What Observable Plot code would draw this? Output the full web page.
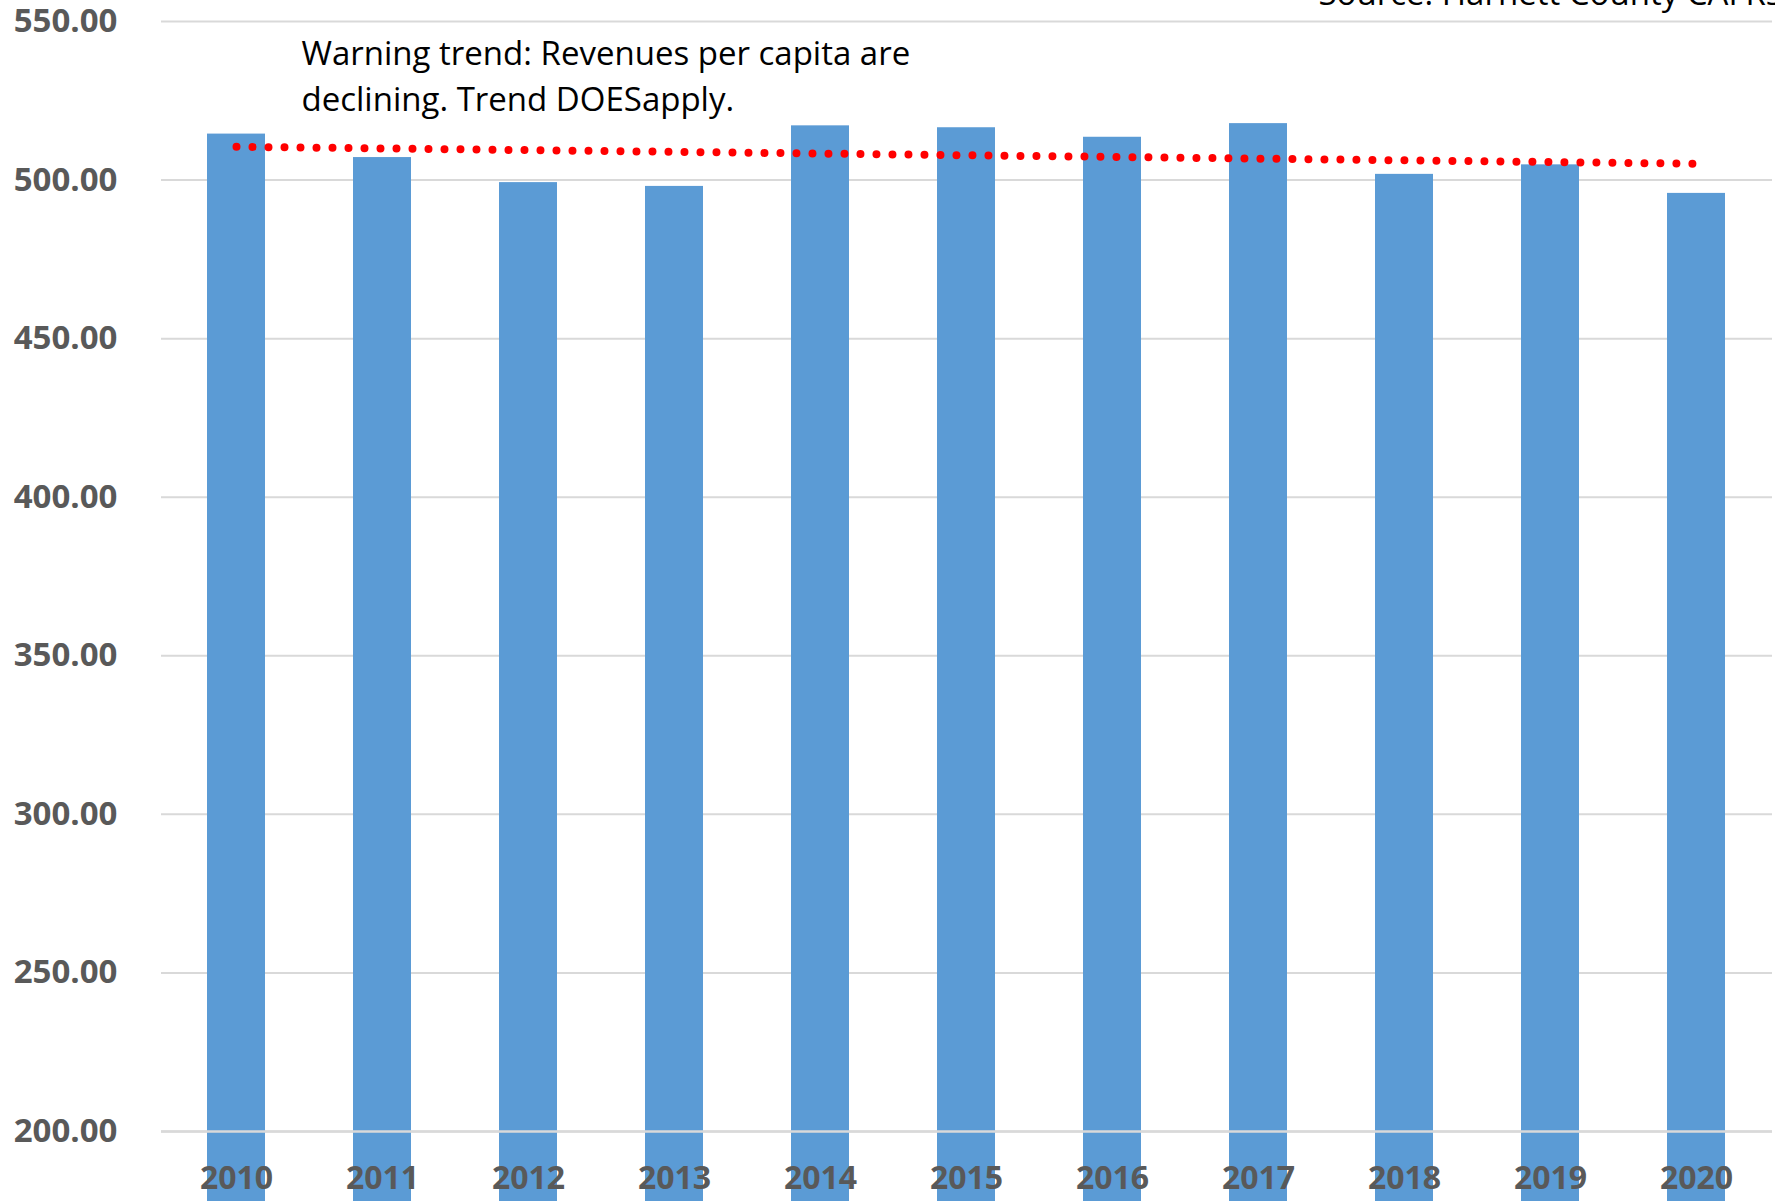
<!DOCTYPE html>
<html>
<head>
<meta charset="utf-8">
<script src="https://cdn.jsdelivr.net/npm/d3@7"></script>
<script src="https://cdn.jsdelivr.net/npm/@observablehq/plot@0.6"></script>
<style>
  html, body { margin: 0; padding: 0; background: #fff; overflow: hidden; }
  #chart svg { font-family: "Open Sans", sans-serif; overflow: visible; }
</style>
</head>
<body>
<div id="chart"></div>
<script>
const years = ["2010","2011","2012","2013","2014","2015","2016","2017","2018","2019","2020"];
const revenuePerCapita = [514.5, 507.1, 499.2, 498.0, 517.1, 516.5, 513.5, 517.8, 501.8, 504.8, 495.8];
const yTicks = [200, 250, 300, 350, 400, 450, 500, 550];
const noteText = "Warning trend: Revenues per capita are\ndeclining. Trend DOESapply.";
const sourceText = "Source: Harnett County CAFRs";

const data = years.map((year, i) => ({year, value: revenuePerCapita[i], i}));

// Linear (least-squares) trendline through the bar values
const mx = d3.mean(data, d => d.i);
const my = d3.mean(data, d => d.value);
const slope = d3.sum(data, d => (d.i - mx) * (d.value - my)) / d3.sum(data, d => (d.i - mx) ** 2);
const trend = data.map(d => ({year: d.year, value: my + slope * (d.i - mx)}));

const chart = Plot.plot({
  width: 1775,
  height: 1201,
  marginLeft: 161,
  marginRight: 3,
  marginTop: 21,
  marginBottom: 70,
  style: {background: "#fff"},
  x: {domain: years, paddingInner: 0.6, paddingOuter: 0.3, label: null},
  y: {domain: [200, 550], label: null},
  marks: [
    Plot.gridY(yTicks, {stroke: "#d9d9d9", strokeOpacity: 1, strokeWidth: 2}),
    Plot.barY(data, {x: "year", y: "value", fill: "#5b9bd5"}),
    Plot.ruleY([200], {stroke: "#d9d9d9", strokeWidth: 2.5}),
    Plot.line(trend, {x: "year", y: "value", stroke: "#ff0000", strokeWidth: 8,
      strokeDasharray: "0 16", strokeLinecap: "round"}),
    Plot.axisY(yTicks, {tickSize: 0, tickPadding: 44, tickFormat: d3.format(".2f"),
      fontSize: 33, fontWeight: "bold", fill: "#595959", label: null}),
    Plot.axisX({tickSize: 0, tickPadding: 35, fontSize: 32, fontWeight: "bold",
      fill: "#595959", label: null}),
    Plot.text([noteText], {frameAnchor: "top-left", dx: 140, dy: 11, textAnchor: "start",
      lineAnchor: "top", fontSize: 33, lineHeight: 1.39, fill: "#000"}),
    Plot.text([sourceText], {frameAnchor: "top-left", dx: 1157, dy: -40, textAnchor: "start",
      lineAnchor: "top", fontSize: 33, fill: "#000"})
  ]
});
document.getElementById("chart").appendChild(chart);
</script>
</body>
</html>
